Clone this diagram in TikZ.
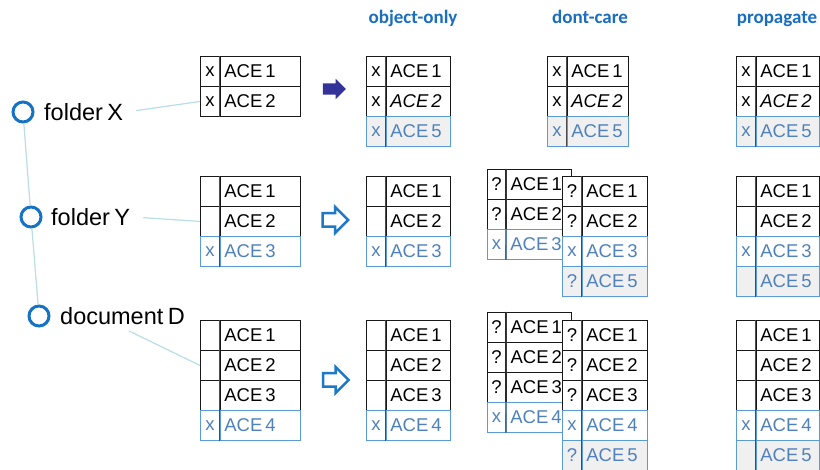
\documentclass[tikz,border=0pt]{standalone}
\usepackage{fontspec}
\setmainfont{Liberation Sans}
\newfontfamily\headfont{Carlito}
\usetikzlibrary{shapes.arrows}

\definecolor{rowblue}{RGB}{79,129,189}
\definecolor{edgeblue}{RGB}{91,155,213}
\definecolor{newgray}{RGB}{240,240,240}
\definecolor{divgray}{RGB}{75,75,75}
\definecolor{headblue}{RGB}{25,110,190}
\definecolor{treeblue}{RGB}{21,114,196}
\definecolor{linkcyan}{RGB}{185,222,228}
\definecolor{arrowdark}{RGB}{51,51,153}
\definecolor{arrowblue}{RGB}{30,120,200}

% fonts with slightly narrower word spaces
\newcommand\cellfont{\fontsize{18.5}{21}\selectfont\spaceskip 3pt plus 1pt\relax}
\newcommand\treefont{\fontsize{23.5}{27}\selectfont\spaceskip 4.5pt plus 1pt\relax}

\tikzset{
  cell/.style={rectangle, draw=black!90, fill=white, line width=0.9pt,
    inner xsep=4pt, inner ysep=0pt, minimum height=30pt, anchor=north west,
    font=\cellfont},
  oldrow/.style={},
  inhrow/.style={draw=edgeblue, text=rowblue},
  newrow/.style={draw=edgeblue, text=rowblue, fill=newgray},
  divider/.style={draw=divgray, line width=0.9pt},
  treecirc/.style={circle, draw=treeblue, line width=3pt, minimum size=20pt, inner sep=0pt},
  treelabel/.style={anchor=west, inner sep=3pt, font=\treefont},
  link/.style={draw=linkcyan, line width=1.2pt},
  head/.style={anchor=base, text=headblue, font=\headfont\bfseries\fontsize{19}{22}\selectfont},
  fullarrow/.style={single arrow, fill=arrowdark, inner xsep=0pt, inner ysep=5.5pt,
    minimum height=23pt, single arrow head extend=4.5pt},
  openarrow/.style={single arrow, draw=arrowblue, fill=white, line width=2.5pt,
    inner xsep=0pt, inner ysep=5.5pt,
    minimum height=25.5pt, single arrow head extend=6.25pt},
}

% ACL table: name, left x, top y, mark column width, entry column width, rows (style/mark/text)
\newcommand\acetable[6]{%
  \foreach \st/\mk/\tx [count=\i] in {#6}{%
    \node[cell,\st,minimum width=#4pt] (#1-\i-m) at (#2,{#3+30*(\i-1)}) {\mk};
    \node[cell,\st,minimum width=#5pt] (#1-\i-a) at (#1-\i-m.north east)
      {\makebox[\dimexpr#5pt-8pt\relax][l]{\tx}};
    \xdef\lastrow{\i}
  }
  \draw[divider] (#1-1-m.north east) -- (#1-\lastrow-m.south east);
}

\begin{document}
\begin{tikzpicture}[x=1pt,y=-1pt]
\fill[white] (0,0) rectangle (820,470);
\useasboundingbox (0,0) rectangle (820,470);

% column headings
\node[head] (hO) at (413,24) {object-only};
\node[head] (hD) at (590,24) {dont-care};
\node[head] (hP) at (777,24) {propagate};

% object tree
\node[treecirc] (cX) at (23,112) {};
\node[treecirc] (cY) at (31,217) {};
\node[treecirc] (cD) at (39,316) {};
\node[treelabel] (lX) at (41,112) {folder X};
\node[treelabel] (lY) at (48,217) {folder Y};
\node[treelabel] (lD) at (57,316) {document D};
\draw[link] (cX) -- (cY);
\draw[link] (cY) -- (cD);

% ACLs of the objects
\acetable{tX}{200}{56}{19}{80}{oldrow/x/ACE 1, oldrow/x/ACE 2}
\acetable{tY}{200}{176}{19}{80}{oldrow//ACE 1, oldrow//ACE 2, inhrow/x/ACE 3}
\acetable{tD}{200}{320}{19}{80}{oldrow//ACE 1, oldrow//ACE 2, oldrow//ACE 3, inhrow/x/ACE 4}

\draw[link, shorten <=10pt] (lX.east) -- (tX-2-m.west);
\draw[link, shorten <=10pt] (lY.east) -- (tY-2-m.west);
\draw[link, shorten <=7pt] (lD.south) -- (tD-2-m.west);

% change arrows
\node[fullarrow] (aX) at (331.5,89) {};
\node[openarrow] (aY) at (332,220) {};
\node[openarrow] (aD) at (332.5,380) {};

% object-only
\acetable{oX}{366}{56}{19}{64}{oldrow/x/ACE 1, oldrow/x/{\textit{ACE 2}}, newrow/x/ACE 5}
\acetable{oY}{366}{176}{19}{64}{oldrow//ACE 1, oldrow//ACE 2, inhrow/x/ACE 3}
\acetable{oD}{366}{320}{19}{64}{oldrow//ACE 1, oldrow//ACE 2, oldrow//ACE 3, inhrow/x/ACE 4}

% dont-care
\acetable{dX}{547}{56}{19}{61}{oldrow/x/ACE 1, oldrow/x/{\textit{ACE 2}}, newrow/x/ACE 5}
\acetable{dYb}{487}{169}{18}{65}{oldrow/?/ACE 1, oldrow/?/ACE 2, inhrow/x/ACE 3}
\acetable{dYf}{562}{176}{19}{65}{oldrow/?/ACE 1, oldrow/?/ACE 2, inhrow/x/ACE 3, newrow/?/ACE 5}
\acetable{dDb}{487}{312}{18}{65}{oldrow/?/ACE 1, oldrow/?/ACE 2, oldrow/?/ACE 3, inhrow/x/ACE 4}
\acetable{dDf}{562}{320}{19}{65}{oldrow/?/ACE 1, oldrow/?/ACE 2, oldrow/?/ACE 3, inhrow/x/ACE 4, newrow/?/ACE 5}

% propagate
\acetable{pX}{736}{56}{19}{63}{oldrow/x/ACE 1, oldrow/x/{\textit{ACE 2}}, newrow/x/ACE 5}
\acetable{pY}{736}{176}{19}{63}{oldrow//ACE 1, oldrow//ACE 2, inhrow/x/ACE 3, newrow//ACE 5}
\acetable{pD}{736}{320}{19}{63}{oldrow//ACE 1, oldrow//ACE 2, oldrow//ACE 3, inhrow/x/ACE 4, newrow//ACE 5}
\end{tikzpicture}
\end{document}
